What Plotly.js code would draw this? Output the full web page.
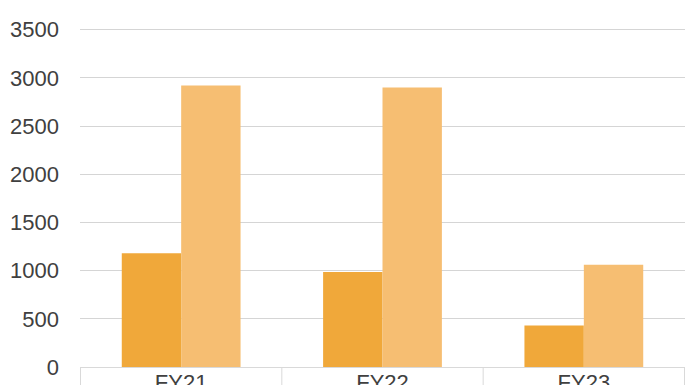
<!DOCTYPE html>
<html>
<head>
<meta charset="utf-8">
<script src="https://cdn.plot.ly/plotly-3.0.1.min.js"></script>
<style>html,body{margin:0;padding:0;background:#fff}#chart{width:696px;height:385px}</style>
</head>
<body>
<div id="chart"></div>
<script>
var categories = ["FY21", "FY22", "FY23"];
var seriesA = [1180, 986, 430];
var seriesB = [2921, 2900, 1062];
var yTicks = [0, 500, 1000, 1500, 2000, 2500, 3000, 3500];

var traces = [
  {type: "bar", x: categories, y: seriesA, marker: {color: "#F0A83A"}, hoverinfo: "x+y"},
  {type: "bar", x: categories, y: seriesB, marker: {color: "#F6BE72"}, hoverinfo: "x+y"}
];

var bounds = [-0.5, 0.5, 1.5, 2.5];
var shapes = bounds.map(function (b) {
  return {type: "line", xref: "x", yref: "paper", x0: b, x1: b, y0: 0, y1: -0.055,
          line: {color: "#D9D9D9", width: 1}};
});

var layout = {
  width: 696, height: 385,
  margin: {l: 80, r: 11, t: 24, b: 18, pad: 0},
  paper_bgcolor: "#fff", plot_bgcolor: "#fff",
  showlegend: false,
  barmode: "group", bargap: 0.41, bargroupgap: 0,
  font: {family: "Liberation Sans, Arial, sans-serif", size: 22, color: "#404040"},
  xaxis: {type: "category", showgrid: false, showline: true, linecolor: "#D9D9D9", linewidth: 1,
          ticks: "", ticklabelstandoff: -4, tickfont: {size: 22, color: "#404040"}, fixedrange: true},
  yaxis: {range: [0, 3560], tickvals: yTicks, showgrid: true, gridcolor: "#D5D5D5", gridwidth: 1,
          zeroline: false, showline: false, ticks: "", ticklabelstandoff: 20,
          tickfont: {size: 22, color: "#404040"}, fixedrange: true},
  shapes: shapes
};

Plotly.newPlot("chart", traces, layout, {displayModeBar: false, staticPlot: true});
</script>
</body>
</html>
